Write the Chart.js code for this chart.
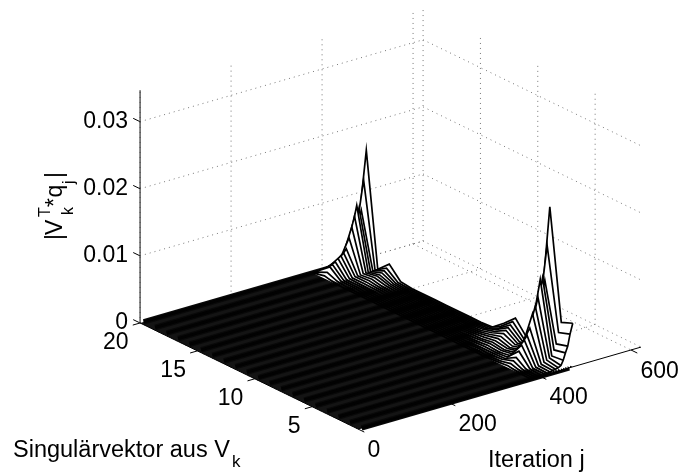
<!DOCTYPE html>
<html>
<head>
<meta charset="utf-8">
<style>
  html, body { margin: 0; padding: 0; background: #fff; }
  canvas { display: block; }
</style>
<script src="https://cdn.jsdelivr.net/npm/chart.js@4/dist/chart.umd.min.js"></script>
</head>
<body>
<canvas id="surface" width="683" height="473"></canvas>
<script>
// ================= DATA =================
const iterTicks = [0, 200, 400, 600];
const vectorTicks = [5, 10, 15, 20];
const heightTicks = [0, 0.01, 0.02, 0.03];
const heightTickLabels = ["0", "0.01", "0.02", "0.03"];

const iterLimit = 622;
const heightLimit = 0.0347;
const floorEnd = 472;

// iterations where the surface leaves the floor
const iterations = [380, 386, 392, 398, 404, 410, 416, 422, 428, 434, 440, 446, 451, 456, 461, 466, 472];

// height of each singular vector at those iterations, in 1e-4
const vec1  = [0, 0, 0, 0, 0, 1, 1, 2, 3, 4, 5, 7, 14, 24, 33, 50, 65];
const vec2  = [0, 0, 0, 0, 1, 1, 2, 3, 4, 6, 8, 10, 12, 20, 28, 44, 58];
const vec3  = [3, 5, 8, 12, 20, 28, 34, 40, 50, 70, 80, 92, 118, 119, 115, 166, 222];
const vec4  = [1, 1, 2, 2, 3, 4, 5, 6, 7, 8, 9, 10, 11, 11, 11, 12, 12];
const vec5  = [0, 0, 0, 1, 1, 1, 2, 2, 3, 3, 4, 5, 6, 7, 8, 9, 10];
const vec6  = [0, 0, 1, 1, 2, 3, 4, 5, 6, 8, 10, 13, 17, 20, 23, 27, 31];
const vec7  = [0, 0, 0, 0, 1, 1, 2, 2, 3, 4, 5, 6, 7, 9, 10, 12, 15];
const vec8  = [0, 0, 0, 0, 0, 0, 0, 1, 1, 1, 1, 1, 2, 2, 2, 2, 1];
const vec9  = [0, 0, 0, 0, 0, 0, 0, 0, 0, 0, 0, 0, 0, 0, 0, 0, 0];
const vec10 = [0, 0, 0, 0, 0, 0, 0, 0, 0, 0, 0, 0, 0, 0, 0, 0, 0];
const vec11 = [0, 0, 0, 0, 0, 0, 0, 0, 0, 0, 0, 0, 0, 0, 0, 0, 0];
const vec12 = [0, 0, 0, 0, 0, 0, 0, 0, 0, 0, 0, 0, 0, 0, 0, 0, 0];
const vec13 = [0, 0, 0, 0, 0, 0, 0, 0, 0, 0, 0, 0, 0, 0, 0, 0, 0];
const vec14 = [0, 0, 0, 0, 0, 0, 0, 0, 0, 0, 0, 0, 0, 0, 0, 0, 0];
const vec15 = [0, 0, 0, 0, 0, 0, 0, 0, 0, 0, 0, 0, 0, 0, 0, 0, 0];
const vec16 = [0, 0, 0, 0, 0, 0, 1, 1, 1, 1, 2, 2, 2, 2, 2, 2, 2];
const vec17 = [0, 0, 1, 1, 1, 1, 2, 3, 4, 5, 6, 7, 8, 10, 12, 15, 20];
const vec18 = [0, 1, 1, 1, 1, 2, 2, 3, 3, 3, 4, 4, 4, 4, 4, 4, 4];
const vec19 = [4, 8, 15, 17, 20, 24, 27, 30, 35, 50, 65, 80, 95, 90, 86, 130, 173];
const vec20 = [0, 0, 1, 1, 1, 1, 1, 1, 1, 1, 2, 2, 2, 2, 2, 2, 2];

const heights = [vec1, vec2, vec3, vec4, vec5, vec6, vec7, vec8, vec9, vec10,
                 vec11, vec12, vec13, vec14, vec15, vec16, vec17, vec18, vec19, vec20];

// ================= VIEW (tilted box onto the page) =================
function project(j, k, z) {
  return {
    x: 358 + 0.455 * j - 11.47 * (k - 1),
    y: 429 - 0.1317 * j - 5.58 * (k - 1) - 6710 * z
  };
}

const plain = (data, color, width, extra) => Object.assign({
  data, showLine: true, borderColor: color, borderWidth: width,
  pointRadius: 0, tension: 0, fill: false, borderCapStyle: "butt"
}, extra || {});

// first dataset ends up on top, so everything is pushed front to back
const datasets = [];

// front edge of the surface, runs along the iterations
datasets.push(plain(iterations.map((j, i) => project(j, 1, vec1[i] / 1e4)), "#000", 1.7));

// axes
datasets.push(plain([project(0, 1, 0), project(iterLimit, 1, 0)], "#000", 1));
datasets.push(plain([project(0, 20, 0), project(0, 1, 0)], "#000", 1));
datasets.push(plain([project(0, 20, 0), project(0, 20, heightLimit)], "#333", 1.2));
iterTicks.forEach(j => datasets.push(plain([project(j, 1, 0), project(j, 0.45, 0)], "#000", 1)));
vectorTicks.forEach(k => datasets.push(plain([project(0, k, 0), project(-16, k, 0)], "#000", 1)));
heightTicks.forEach(z => datasets.push(plain([project(0, 20, z), project(0, 20.6, z)], "#000", 1)));

// relief: nearest iteration first, each one a white sheet down to the floor
iterations.forEach((j, i) => {
  const profile = [], base = [];
  for (let k = 20; k >= 1; k--) {
    profile.push(project(j, k, heights[k - 1][i] / 1e4));
    base.push(project(j, k, 0));
  }
  datasets.push(plain(profile, "#000", 1.7, { fill: "+1", backgroundColor: "#fff" }));
  datasets.push(plain(base, "rgba(0,0,0,0)", 0));
});

// floor stripes, then the floor itself
for (let k = 1; k <= 20; k++) {
  datasets.push(plain([project(8, k, 0), project(floorEnd - 8, k, 0)], "#020202", 3));
}
for (let k = 1; k <= 20; k++) {
  datasets.push(plain([project(8, k, 0), project(floorEnd - 8, k, 0)], "#090909", 5.5));
}
datasets.push(plain(
  [project(0, 20, 0), project(floorEnd, 20, 0), project(floorEnd, 1, 0), project(0, 1, 0), project(0, 20, 0)],
  "#111", 0, { fill: "shape", backgroundColor: "#141414" }
));

// dotted grid on the two back walls and the floor
const dotted = { borderDash: [1, 4] };
const gridLine = (a, b) => datasets.push(plain([a, b], "#777", 1, dotted));
heightTicks.forEach(z => {
  gridLine(project(0, 20, z), project(iterLimit, 20, z));
  gridLine(project(iterLimit, 20, z), project(iterLimit, 1, z));
});
iterTicks.forEach(j => {
  gridLine(project(j, 20, 0), project(j, 20, heightLimit));
  gridLine(project(j, 20, 0), project(j, 1, 0));
});
vectorTicks.forEach(k => {
  gridLine(project(iterLimit, k, 0), project(iterLimit, k, heightLimit));
  gridLine(project(0, k, 0), project(iterLimit, k, 0));
});

// ================= TEXT =================
const labelsPlugin = {
  id: "labels",
  afterDraw(chart) {
    const ctx = chart.ctx;
    const put = (s, x, y, size, align) => {
      ctx.font = size + 'px "Liberation Sans", Arial, sans-serif';
      ctx.textAlign = align || "left";
      ctx.fillText(s, x, y);
    };
    ctx.save();
    ctx.fillStyle = "#000";
    ctx.textBaseline = "alphabetic";

    heightTicks.forEach((z, i) => {
      const p = project(0, 20, z);
      put(heightTickLabels[i], 128, p.y + 6, 23, "right");
    });
    vectorTicks.forEach(k => {
      const p = project(0, k, 0);
      put(String(k), p.x - 11.5, p.y + 26, 23, "right");
    });
    iterTicks.forEach(j => {
      const p = project(j, 1, 0);
      put(String(j), p.x + 9.5, p.y + 28, 23);
    });

    put("Iteration j", 488, 467, 23.5);
    put("Singulärvektor aus V", 13, 457, 23.5);
    put("k", 232, 467, 17);

    // rotated label built piece by piece for the sub and superscripts
    ctx.translate(62, 237);
    ctx.rotate(-Math.PI / 2);
    put("|", -3, 0, 23);
    put("V", 2, 0, 23);
    put("T", 20, -12, 16);
    put("k", 22, 11, 16);
    put("*", 30, 0, 23);
    put("q", 39.5, 0, 23);
    put("j", 53, 11.5, 16);
    put("|", 59, 0, 23);
    ctx.restore();
  }
};

new Chart(document.getElementById("surface"), {
  type: "scatter",
  data: { datasets },
  options: {
    responsive: false,
    animation: false,
    events: [],
    layout: { padding: 0 },
    plugins: { legend: { display: false }, tooltip: { enabled: false } },
    scales: {
      x: { type: "linear", min: 0, max: 683, display: false },
      y: { type: "linear", min: 0, max: 473, reverse: true, display: false }
    }
  },
  plugins: [labelsPlugin]
});
</script>
</body>
</html>
